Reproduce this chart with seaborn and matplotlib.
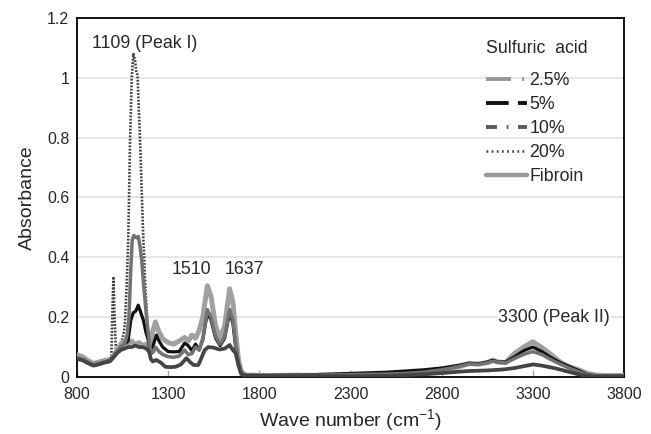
import numpy as np
import pandas as pd
import matplotlib
matplotlib.use("Agg")
import matplotlib.pyplot as plt
from matplotlib.lines import Line2D
import seaborn as sns

# ---------------- data ----------------
wn_tail = [1760, 1800, 1900, 2000, 2100, 2200, 2300, 2400, 2500, 2600, 2700, 2800,
           2900, 2950, 3000, 3050, 3080, 3110, 3150, 3200, 3250, 3300, 3350, 3400,
           3450, 3500, 3550, 3600, 3650, 3700, 3800]

wn_fibroin = [800, 830, 860, 890, 920, 950, 980, 1000, 1020, 1040, 1060, 1080, 1100,
              1120, 1140, 1160, 1180, 1195, 1210, 1230, 1250, 1270, 1300, 1330, 1360,
              1390, 1410, 1430, 1450, 1470, 1490, 1515, 1535, 1560, 1585, 1610, 1637,
              1655, 1670, 1685, 1700, 1720, 1740] + wn_tail
abs_fibroin = [0.075, 0.068, 0.055, 0.045, 0.05, 0.055, 0.058, 0.07, 0.09, 0.11, 0.12,
               0.112, 0.12, 0.108, 0.115, 0.105, 0.11, 0.098, 0.14, 0.184, 0.15, 0.128,
               0.115, 0.11, 0.12, 0.132, 0.12, 0.14, 0.13, 0.155, 0.2, 0.305, 0.27, 0.17,
               0.13, 0.17, 0.295, 0.25, 0.15, 0.06, 0.02, 0.008, 0.006,
               0.006, 0.005, 0.005, 0.006, 0.005, 0.006, 0.006, 0.007, 0.008, 0.01, 0.015,
               0.022, 0.035, 0.045, 0.043, 0.048, 0.056, 0.05, 0.048, 0.079, 0.1, 0.118,
               0.098, 0.075, 0.05, 0.034, 0.024, 0.012, 0.006, 0.005, 0.005]

wn_25 = [800, 830, 860, 890, 920, 950, 980, 1000, 1020, 1040, 1060, 1075, 1085, 1095,
         1103, 1112, 1125, 1136, 1145, 1155, 1165, 1173, 1183, 1191, 1200, 1210, 1220,
         1230, 1250, 1270, 1300, 1330, 1360, 1390, 1410, 1430, 1450, 1470, 1490, 1515,
         1535, 1560, 1585, 1610, 1637, 1655, 1670, 1685, 1700, 1720, 1740] + wn_tail
abs_25 = [0.065, 0.06, 0.05, 0.04, 0.045, 0.05, 0.055, 0.068, 0.085, 0.1, 0.11, 0.14,
          0.2, 0.36, 0.46, 0.473, 0.465, 0.47, 0.44, 0.39, 0.31, 0.257, 0.19, 0.146, 0.1,
          0.08, 0.085, 0.1, 0.085, 0.075, 0.068, 0.066, 0.07, 0.09, 0.075, 0.078, 0.1,
          0.09, 0.13, 0.225, 0.2, 0.135, 0.11, 0.135, 0.225, 0.19, 0.11, 0.05, 0.015,
          0.006, 0.005,
          0.005, 0.005, 0.005, 0.006, 0.006, 0.007, 0.008, 0.009, 0.01, 0.012, 0.016,
          0.024, 0.036, 0.044, 0.042, 0.047, 0.053, 0.049, 0.047, 0.062, 0.076, 0.085,
          0.075, 0.058, 0.043, 0.03, 0.018, 0.006, 0.004, 0.004, 0.004]

wn_5 = [800, 830, 860, 890, 920, 950, 980, 1000, 1020, 1040, 1060, 1080, 1095, 1109,
        1122, 1136, 1150, 1164, 1178, 1191, 1200, 1210, 1220, 1235, 1250, 1270, 1300,
        1330, 1360, 1390, 1410, 1430, 1450, 1470, 1490, 1515, 1535, 1560, 1585, 1610,
        1637, 1655, 1670, 1685, 1700, 1720, 1740] + wn_tail
abs_5 = [0.062, 0.058, 0.048, 0.04, 0.044, 0.05, 0.055, 0.068, 0.085, 0.1, 0.11, 0.12,
         0.19, 0.215, 0.22, 0.24, 0.215, 0.19, 0.15, 0.123, 0.09, 0.08, 0.11, 0.14, 0.12,
         0.1, 0.085, 0.084, 0.085, 0.113, 0.105, 0.088, 0.11, 0.09, 0.125, 0.215, 0.19,
         0.13, 0.105, 0.13, 0.215, 0.18, 0.1, 0.045, 0.012, 0.006, 0.005,
         0.006, 0.005, 0.006, 0.007, 0.008, 0.01, 0.012, 0.014, 0.016, 0.02, 0.024,
         0.03, 0.04, 0.046, 0.044, 0.05, 0.056, 0.05, 0.05, 0.068, 0.088, 0.1, 0.085,
         0.065, 0.048, 0.035, 0.022, 0.008, 0.004, 0.004, 0.004]

wn_10 = [800, 830, 860, 890, 920, 950, 980, 1000, 1020, 1040, 1060, 1080, 1100, 1120,
         1140, 1160, 1180, 1195, 1205, 1215, 1235, 1260, 1285, 1310, 1340, 1370, 1400,
         1420, 1440, 1465, 1480, 1500, 1520, 1550, 1580, 1610, 1637, 1655, 1670, 1685,
         1700, 1720, 1740] + wn_tail
abs_10 = [0.06, 0.056, 0.046, 0.038, 0.042, 0.048, 0.052, 0.065, 0.08, 0.09, 0.095,
          0.1, 0.1, 0.105, 0.1, 0.1, 0.095, 0.085, 0.06, 0.052, 0.057, 0.048, 0.034,
          0.033, 0.034, 0.042, 0.063, 0.05, 0.04, 0.04, 0.06, 0.09, 0.1, 0.098, 0.092,
          0.095, 0.107, 0.09, 0.08, 0.04, 0.01, 0.005, 0.004,
          0.004, 0.004, 0.003, 0.003, 0.003, 0.003, 0.003, 0.003, 0.004, 0.006, 0.009,
          0.013, 0.018, 0.02, 0.021, 0.022, 0.023, 0.024, 0.026, 0.03, 0.036, 0.042,
          0.038, 0.032, 0.025, 0.017, 0.009, 0.003, 0.002, 0.002, 0.002]

wn_20 = [800, 830, 860, 890, 920, 950, 975, 988, 994, 1000, 1006, 1014, 1025, 1040,
         1055, 1063, 1072, 1081, 1091, 1100, 1109, 1118, 1126, 1132, 1140, 1146, 1155,
         1164, 1175, 1186, 1195, 1205, 1215, 1230, 1250, 1270, 1300, 1330, 1360, 1390,
         1410, 1430, 1450, 1470, 1490, 1515, 1535, 1560, 1585, 1610, 1637, 1655, 1670,
         1685, 1700, 1720, 1740] + wn_tail
abs_20 = [0.065, 0.06, 0.05, 0.04, 0.045, 0.05, 0.055, 0.06, 0.22, 0.335, 0.2, 0.08,
          0.09, 0.11, 0.14, 0.18, 0.3, 0.457, 0.79, 1.0, 1.08, 1.06, 1.015, 1.01, 0.88,
          0.79, 0.62, 0.457, 0.3, 0.18, 0.12, 0.085, 0.085, 0.1, 0.085, 0.075, 0.068,
          0.066, 0.07, 0.09, 0.075, 0.078, 0.1, 0.09, 0.13, 0.225, 0.2, 0.135, 0.11,
          0.135, 0.225, 0.19, 0.11, 0.05, 0.015, 0.006, 0.005,
          0.005, 0.005, 0.005, 0.006, 0.006, 0.007, 0.008, 0.009, 0.01, 0.012, 0.016,
          0.024, 0.036, 0.044, 0.042, 0.047, 0.053, 0.049, 0.047, 0.062, 0.076, 0.085,
          0.075, 0.058, 0.043, 0.03, 0.018, 0.006, 0.004, 0.004, 0.004]

legend_labels = ["2.5%", "5%", "10%", "20%", "Fibroin"]
legend_title = "Sulfuric  acid"
x_ticks = [800, 1300, 1800, 2300, 2800, 3300, 3800]
y_ticks = [0, 0.2, 0.4, 0.6, 0.8, 1.0, 1.2]
y_tick_labels = ["0", "0.2", "0.4", "0.6", "0.8", "1", "1.2"]
annotations = [("1109 (Peak I)", 1173, 1.115), ("1510", 1425, 0.36),
               ("1637", 1716, 0.36), ("3300 (Peak II)", 3416, 0.198)]

# ---------------- style ----------------
sns.set_style("white")
plt.rcParams["font.family"] = ["Liberation Sans", "DejaVu Sans"]
plt.rcParams["mathtext.default"] = "regular"
plt.rcParams["lines.scale_dashes"] = False

W, H = 651, 434
fig = plt.figure(figsize=(W / 100, H / 100), dpi=100)
ax = fig.add_axes([77 / W, 57 / H, 547 / W, 359 / H])

series = [
    # label, x, y, color, lw, linestyle, zorder
    ("20%", wn_20, abs_20, "#3e3e3e", 1.9, (0, (1.3, 1.1)), 2),
    ("Fibroin", wn_fibroin, abs_fibroin, "#a0a0a0", 3.6, "-", 3),
    ("5%", wn_5, abs_5, "#111111", 2.3, "-", 4),
    ("2.5%", wn_25, abs_25, "#727272", 2.5, "-", 5),
    ("10%", wn_10, abs_10, "#444444", 2.7, "-", 6),
]
for lab, xs, ys, c, lw, ls, z in series:
    df = pd.DataFrame({"wn": xs, "A": ys})
    sns.lineplot(data=df, x="wn", y="A", ax=ax, color=c, lw=lw, linestyle=ls,
                 estimator=None, sort=False, legend=False, zorder=z)

ax.set_xlim(800, 3800)
ax.set_ylim(0, 1.2)
ax.set_xticks(x_ticks)
ax.set_yticks(y_ticks)
ax.set_yticklabels(y_tick_labels)
ax.yaxis.grid(True, color="#e2e2e2", lw=1.2, zorder=0)
ax.xaxis.grid(False)
ax.set_axisbelow(True)
ax.tick_params(axis="x", direction="in", length=5, width=1, color="#aaaaaa",
               pad=7, labelsize=11.5, bottom=True)
ax.tick_params(axis="y", length=0, pad=5.5, labelsize=11.5)
for s in ax.spines.values():
    s.set_visible(True)
    s.set_color("black")
    s.set_linewidth(1.3)

ax.set_xlabel("Wave number (cm$^{-1}$)", fontsize=14, labelpad=4)
ax.set_ylabel("Absorbance", fontsize=14, labelpad=8)

for txt, xv, yv in annotations:
    ax.text(xv, yv, txt, ha="center", va="center", fontsize=12.8, zorder=10,
            bbox=dict(facecolor="white", edgecolor="none", pad=1))

# legend
handles = [
    Line2D([], [], color="#999999", lw=2.8, dashes=(18, 8, 1.5, 8)),
    Line2D([], [], color="#111111", lw=2.8, dashes=(16.3, 6.7, 6.5, 6.7)),
    Line2D([], [], color="#5a5a5a", lw=2.8, dashes=(7.9, 7, 1.2, 7)),
    Line2D([], [], color="#444444", lw=1.8, dashes=(1.3, 2.4)),
    Line2D([], [], color="#999999", lw=3.2),
]
fig.text(485.7 / W, (H - 53.3) / H, legend_title, fontsize=12.8, ha="left",
         va="baseline")
ax.legend(handles, legend_labels, loc="upper left",
          bbox_to_anchor=(485.7 / W, (H - 72) / H), bbox_transform=fig.transFigure,
          frameon=False, borderpad=0, borderaxespad=0, handlelength=2.3,
          handletextpad=0.15, labelspacing=0.39, fontsize=12.8)

fig.savefig("out.png", dpi=100)
